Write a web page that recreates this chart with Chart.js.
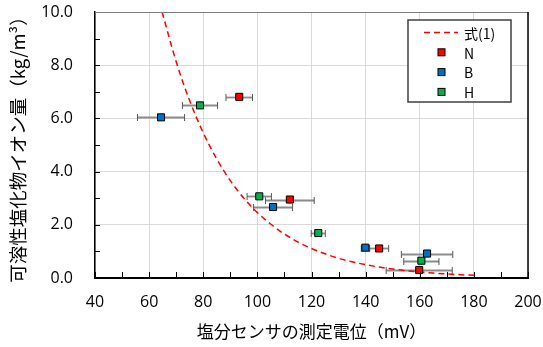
<!DOCTYPE html>
<html lang="ja">
<head>
<meta charset="utf-8">
<title>塩分センサの測定電位と可溶性塩化物イオン量</title>
<script src="https://cdn.jsdelivr.net/npm/chart.js@4.4.1/dist/chart.umd.min.js"></script>
<style>
  html, body { margin: 0; padding: 0; background: #fff; }
  canvas { display: block; }
</style>
</head>
<body>
<canvas id="chart" width="543" height="347"></canvas>
<script>
// 式(1) curve
var curveX = [64.8, 70, 75, 80, 85, 90, 95, 100, 105, 110, 115, 120, 125, 130, 135, 140, 145, 150, 155, 160, 165, 170, 175, 180];
var curveY = [10.0, 8.13, 6.66, 5.46, 4.47, 3.66, 3.00, 2.46, 2.02, 1.65, 1.35, 1.11, 0.91, 0.74, 0.61, 0.50, 0.41, 0.336, 0.275, 0.225, 0.185, 0.151, 0.124, 0.102];

// measured points: potential (mV), chloride (kg/m3), potential spread (mV)
var nX = [93.3, 112.0, 145.0, 159.8];
var nY = [6.81, 2.95, 1.11, 0.30];
var nErr = [4.9, 9.0, 3.5, 12.2];

var bX = [64.4, 105.8, 139.9, 162.7];
var bY = [6.04, 2.67, 1.14, 0.92];
var bErr = [8.7, 7.2, 1.5, 9.5];

var hX = [78.8, 100.7, 122.5, 160.6];
var hY = [6.49, 3.07, 1.69, 0.65];
var hErr = [6.5, 4.5, 2.6, 6.5];

var xTicks = [40, 60, 80, 100, 120, 140, 160, 180, 200];
var yTicks = [0, 2, 4, 6, 8, 10];

function points(xs, ys) {
	return xs.map(function(v, i) { return { x: v, y: ys[i] }; });
}

var tickFont = { family: "'Open Sans', 'Noto Sans', sans-serif", size: 16 };
var titleFont = { family: "'Noto Sans CJK JP', sans-serif", size: 17, weight: 'normal' };

// white background behind everything
var background = {
	id: 'background',
	beforeDraw: function(chart) {
		var ctx = chart.ctx;
		ctx.save();
		ctx.fillStyle = '#fff';
		ctx.fillRect(0, 0, chart.width, chart.height);
		ctx.restore();
	}
};

// horizontal error bars, drawn under the markers
var errorBars = {
	id: 'errorBars',
	beforeDatasetsDraw: function(chart) {
		var ctx = chart.ctx, x = chart.scales.x, y = chart.scales.y;
		ctx.save();
		chart.data.datasets.forEach(function(ds) {
			if (!ds.xErr) return;
			ds.data.forEach(function(p, j) {
				var py = Math.round(y.getPixelForValue(p.y)) + 0.5;
				var x0 = x.getPixelForValue(p.x - ds.xErr[j]);
				var x1 = x.getPixelForValue(p.x + ds.xErr[j]);
				ctx.strokeStyle = '#8c8c8c';
				ctx.lineWidth = 1.8;
				ctx.beginPath();
				ctx.moveTo(x0, py);
				ctx.lineTo(x1, py);
				ctx.stroke();
				ctx.strokeStyle = '#595959';
				ctx.lineWidth = 1;
				ctx.beginPath();
				ctx.moveTo(x0, py - 3.5);
				ctx.lineTo(x0, py + 3.5);
				ctx.moveTo(x1, py - 3.5);
				ctx.lineTo(x1, py + 3.5);
				ctx.stroke();
			});
		});
		ctx.restore();
	}
};

// inner tick marks, frame and the boxed legend inside the plot
var frame = {
	id: 'frame',
	afterDraw: function(chart) {
		var ctx = chart.ctx, x = chart.scales.x, y = chart.scales.y, a = chart.chartArea;
		ctx.save();
		ctx.strokeStyle = '#000';
		ctx.lineWidth = 1;
		ctx.beginPath();
		for (var v = 0; v <= 10; v += 1) {
			var py = Math.round(y.getPixelForValue(v)) + 0.5;
			ctx.moveTo(a.left, py);
			ctx.lineTo(a.left + 5, py);
		}
		for (var u = 40; u <= 200; u += 10) {
			var px = Math.round(x.getPixelForValue(u)) + 0.5;
			ctx.moveTo(px, a.bottom);
			ctx.lineTo(px, a.bottom - 6);
		}
		ctx.stroke();

		// top and right edges
		ctx.strokeStyle = '#7f7f7f';
		ctx.beginPath();
		ctx.moveTo(a.left, a.top + 0.5);
		ctx.lineTo(a.right, a.top + 0.5);
		ctx.stroke();
		ctx.strokeStyle = '#000';
		ctx.lineWidth = 1.5;
		ctx.beginPath();
		ctx.moveTo(a.right, a.top);
		ctx.lineTo(a.right, a.bottom);
		ctx.stroke();

		// legend box
		var lx = 408, ly = 20, lw = 103, lh = 82;
		ctx.fillStyle = '#fff';
		ctx.fillRect(lx, ly, lw, lh);
		ctx.strokeStyle = '#404040';
		ctx.lineWidth = 1.5;
		ctx.strokeRect(lx, ly, lw, lh);

		ctx.font = "14px 'Noto Sans CJK JP', sans-serif";
		ctx.textBaseline = 'middle';
		ctx.textAlign = 'left';
		chart.data.datasets.forEach(function(ds, i) {
			var ry = ly + 12.5 + i * 19.8;
			if (ds.type === 'line') {
				ctx.strokeStyle = ds.borderColor;
				ctx.lineWidth = 1.5;
				ctx.setLineDash(ds.borderDash);
				ctx.beginPath();
				ctx.moveTo(424, ry);
				ctx.lineTo(458, ry);
				ctx.stroke();
				ctx.setLineDash([]);
			} else {
				ctx.fillStyle = ds.backgroundColor;
				ctx.fillRect(438, ry - 3.5, 7, 7);
				ctx.strokeStyle = '#000';
				ctx.lineWidth = 1;
				ctx.strokeRect(438, ry - 3.5, 7, 7);
			}
			ctx.fillStyle = '#000';
			ctx.fillText(ds.label, 464, ry + 1);
		});
		ctx.restore();
	}
};

function marker(label, xs, ys, errs, color) {
	return {
		type: 'scatter',
		label: label,
		data: points(xs, ys),
		xErr: errs,
		backgroundColor: color,
		borderColor: '#000',
		borderWidth: 1,
		pointStyle: 'rect',
		pointRadius: 5,
		order: 1
	};
}

// keep the plot box fixed: no extra room for overhanging end labels
function noOverhang(axis) {
	axis.paddingLeft = 0;
	axis.paddingRight = 0;
	axis.paddingTop = 0;
	axis.paddingBottom = 0;
}

new Chart(document.getElementById('chart'), {
	data: {
		datasets: [
			{
				type: 'line',
				label: '式(1)',
				data: points(curveX, curveY),
				borderColor: '#ff0000',
				borderWidth: 1.5,
				borderDash: [6, 4],
				pointRadius: 0,
				cubicInterpolationMode: 'monotone',
				fill: false,
				order: 2
			},
			marker('N', nX, nY, nErr, '#ff0000'),
			marker('B', bX, bY, bErr, '#0070c0'),
			marker('H', hX, hY, hErr, '#00b050')
		]
	},
	options: {
		responsive: false,
		animation: false,
		devicePixelRatio: 1,
		layout: { padding: { left: 0, top: 12, right: 15, bottom: 0 } },
		plugins: {
			legend: { display: false },
			tooltip: { enabled: false }
		},
		scales: {
			x: {
				type: 'linear',
				min: 40,
				max: 200,
				afterBuildTicks: function(axis) {
					axis.ticks = xTicks.map(function(v) { return { value: v }; });
				},
				afterFit: function(axis) { axis.height = 69; noOverhang(axis); },
				grid: { color: '#d9d9d9', lineWidth: 1, drawTicks: false },
				border: { color: '#000', width: 2 },
				ticks: { font: tickFont, color: '#000', padding: 15, maxRotation: 0 },
				title: {
					display: true,
					text: '塩分センサの測定電位（mV）',
					font: titleFont,
					color: '#000',
					padding: { top: 0, bottom: 5 }
				}
			},
			y: {
				type: 'linear',
				min: 0,
				max: 10,
				afterBuildTicks: function(axis) {
					axis.ticks = yTicks.map(function(v) { return { value: v }; });
				},
				afterFit: function(axis) { axis.width = 95; noOverhang(axis); },
				grid: { color: '#d9d9d9', lineWidth: 1, drawTicks: false },
				border: { color: '#000', width: 1.5 },
				ticks: {
					font: tickFont,
					color: '#000',
					padding: 22,
					callback: function(v) { return v.toFixed(1); }
				},
				title: {
					display: true,
					text: '可溶性塩化物イオン量（kg/m³）',
					font: { family: titleFont.family, size: 18.5, weight: 'normal' },
					color: '#000',
					padding: { top: 7, bottom: 0 }
				}
			}
		}
	},
	plugins: [background, errorBars, frame]
});
</script>
</body>
</html>
